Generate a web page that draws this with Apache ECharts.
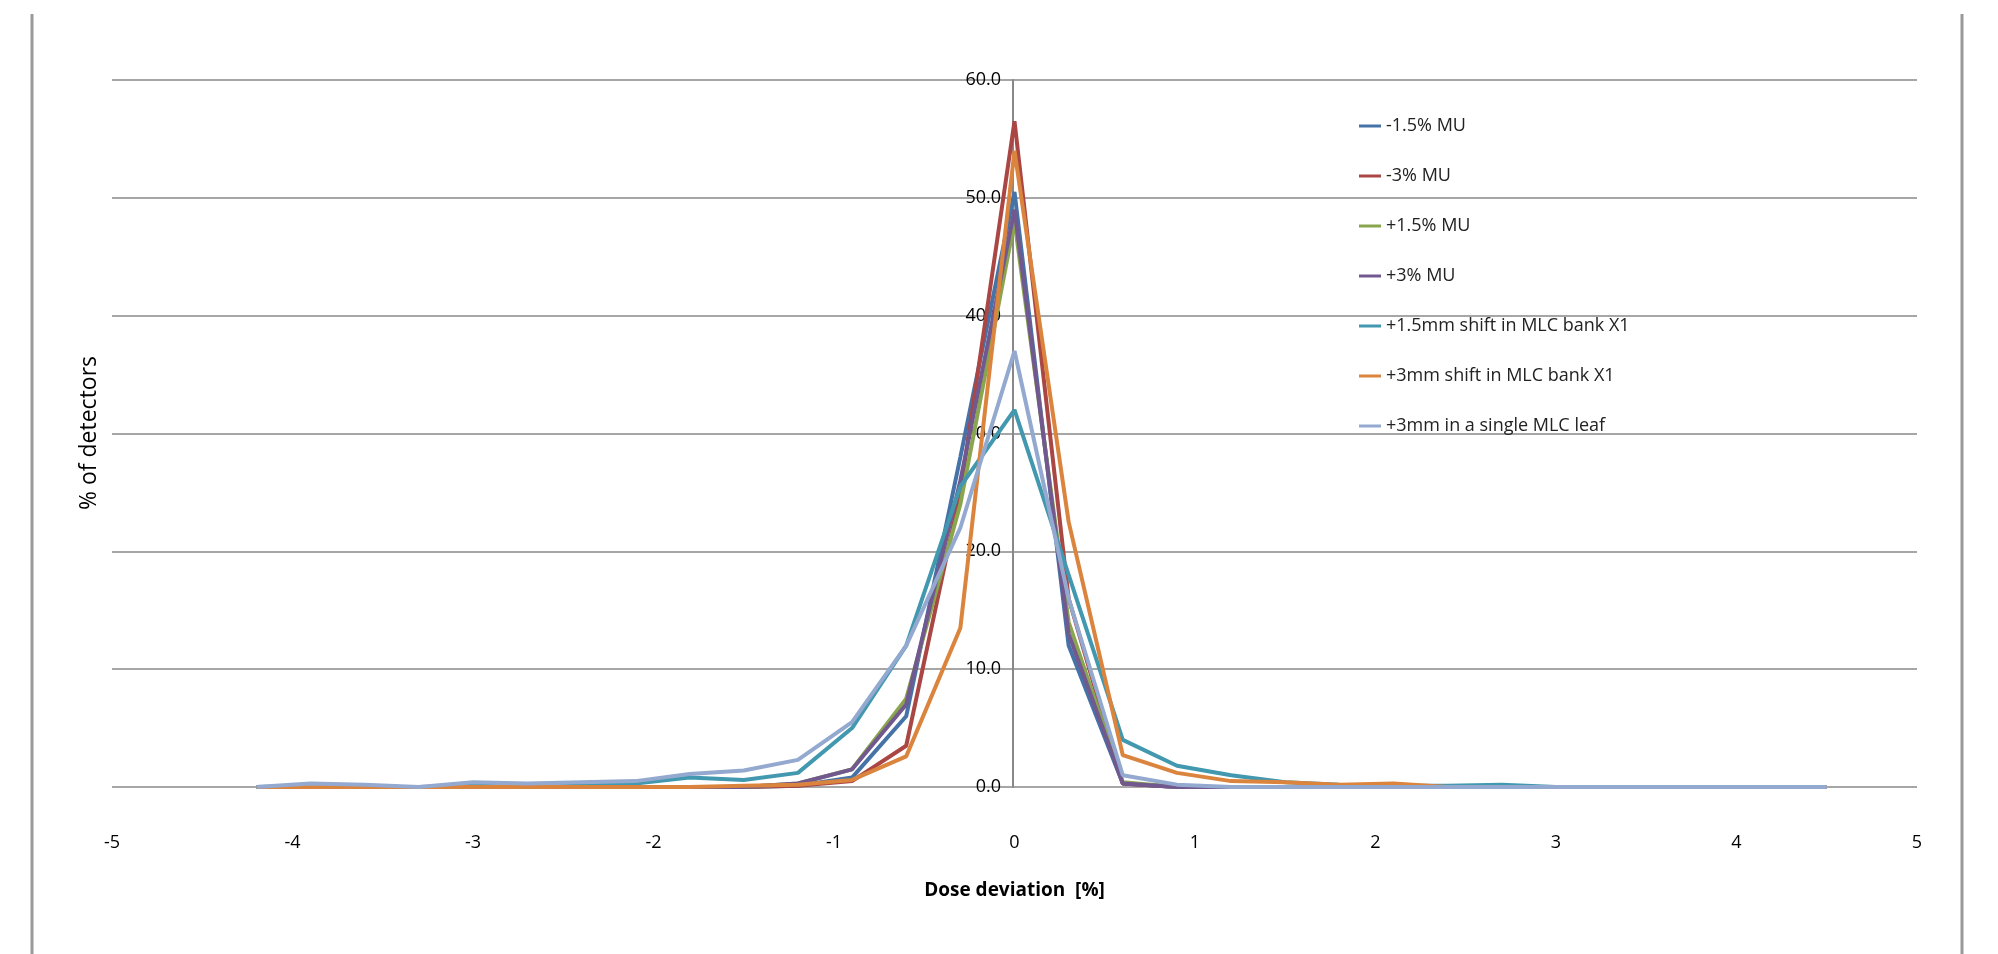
<!DOCTYPE html><html><head><meta charset="utf-8"><script src="https://cdn.jsdelivr.net/npm/echarts@6/dist/echarts.min.js"></script>
<style>html,body{margin:0;background:#fff}#c{width:1998px;height:954px}</style></head><body><div id="c"></div><script>
const xs=[-4.2,-3.9,-3.6,-3.3,-3.0,-2.7,-2.4,-2.1,-1.8,-1.5,-1.2,-0.9,-0.6,-0.3,0,0.3,0.6,0.9,1.2,1.5,1.8,2.1,2.4,2.7,3.0,3.3,3.6,3.9,4.2,4.5];
const names=['-1.5% MU','-3% MU','+1.5% MU','+3% MU','+1.5mm shift in MLC bank X1','+3mm shift in MLC bank X1','+3mm in a single MLC leaf'];
const colors=['#4572A7','#AA4643','#89A54E','#71588F','#4198AF','#DB843D','#93A9CF'];
const s1=[0,0,0,0,0,0,0,0,0,0,0.1,0.8,6,28,50.5,12,0.3,0,0,0,0,0,0,0,0,0,0,0,0,0];
const s2=[0,0,0,0,0,0,0,0,0,0,0.1,0.5,3.5,25,56.5,16,0.3,0,0,0,0,0,0,0,0,0,0,0,0,0];
const s3=[0,0,0,0,0,0,0,0,0,0,0.3,1.5,7.5,24,48,14,0.4,0,0,0,0,0,0,0,0,0,0,0,0,0];
const s4=[0,0,0,0,0,0,0,0,0,0,0.3,1.5,7,26,49,13,0.3,0,0,0,0,0,0,0,0,0,0,0,0,0];
const s5=[0,0.1,0,0,0.1,0,0.1,0.3,0.8,0.6,1.2,5,12,25.5,32,18,4,1.8,1.0,0.4,0.2,0.1,0.1,0.2,0,0,0,0,0,0];
const s6=[0,0,0,0,0,0,0,0,0,0.1,0.2,0.6,2.6,13.5,54,22.5,2.7,1.2,0.5,0.4,0.2,0.3,0,0,0,0,0,0,0,0];
const s7=[0,0.3,0.2,0,0.4,0.3,0.4,0.5,1.1,1.4,2.3,5.5,12,22,37,16,1,0.2,0,0,0,0,0,0,0,0,0,0,0,0];
const all=[s1,s2,s3,s4,s5,s6,s7];
const font='"Open Sans", "Liberation Sans", sans-serif';
const chart=echarts.init(document.getElementById('c'));
chart.setOption({
 animation:false,
 grid:{left:112,right:81,top:80,bottom:167},
 legend:{orient:'vertical',left:1354,top:112,itemGap:32,itemWidth:22,itemHeight:3,icon:'rect',
   textStyle:{fontFamily:font,fontSize:18,color:'#222'},data:names},
 xAxis:{type:'value',min:-5,max:5,interval:1,
   name:'Dose deviation  [%]',nameLocation:'middle',nameGap:94,
   nameTextStyle:{fontFamily:font,fontSize:19,fontWeight:'bold',color:'#000'},
   axisLine:{show:false},axisTick:{show:false},splitLine:{show:false},
   axisLabel:{fontFamily:font,fontSize:18,color:'#000',margin:47}},
 yAxis:{type:'value',min:0,max:60,interval:10,offset:-901,
   axisLine:{show:true,onZero:false,lineStyle:{color:'#888',width:2}},axisTick:{show:false},
   splitLine:{lineStyle:{color:'#888',width:1.5}},
   axisLabel:{fontFamily:font,fontSize:18,color:'#000',margin:12,formatter:v=>v.toFixed(1)}},
 graphic:[
  {type:'line',shape:{x1:32,y1:14,x2:32,y2:954},style:{stroke:'#999',lineWidth:3}},
  {type:'line',shape:{x1:1962,y1:14,x2:1962,y2:954},style:{stroke:'#999',lineWidth:3}},
  {type:'text',x:89,y:433,rotation:Math.PI/2,style:{text:'% of detectors',fontFamily:'"Liberation Sans Narrow", "Open Sans", sans-serif',fontSize:23,fill:'#000',textAlign:'center',textVerticalAlign:'middle'}}
 ],
 series:all.map((d,i)=>({type:'line',name:names[i],data:xs.map((x,j)=>[x,d[j]]),
   showSymbol:false,lineStyle:{width:4,color:colors[i]},itemStyle:{color:colors[i]}}))
});
</script></body></html>
